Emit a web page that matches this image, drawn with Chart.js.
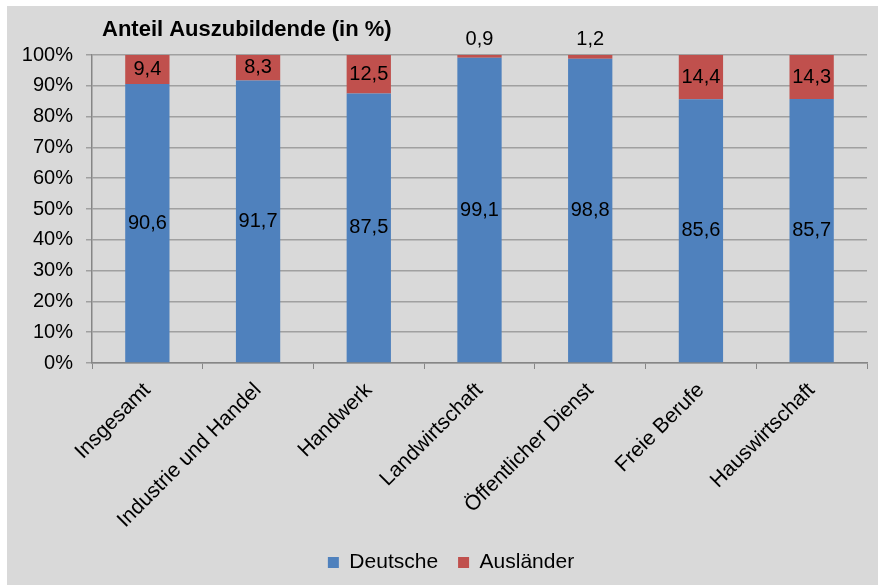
<!DOCTYPE html>
<html>
<head>
<meta charset="utf-8">
<script src="https://cdn.jsdelivr.net/npm/chart.js@4.4.1/dist/chart.umd.min.js"></script>
<style>
    body { margin: 0; background: #ffffff; }
    #box { position: absolute; left: 7px; top: 6px; width: 871px; height: 579px; background: #d9d9d9; }
</style>
</head>
<body>
<div id="box"><canvas id="graph1" width="871" height="579"></canvas></div>
<script>
// Daten
var kategorien = ['Insgesamt', 'Industrie und Handel', 'Handwerk', 'Landwirtschaft', 'Öffentlicher Dienst', 'Freie Berufe', 'Hauswirtschaft'];
var deutsche = [90.6, 91.7, 87.5, 99.1, 98.8, 85.6, 85.7];
var auslaender = [9.4, 8.3, 12.5, 0.9, 1.2, 14.4, 14.3];
var titel = 'Anteil Auszubildende (in %)';

var schrift = 'Liberation Sans, Arial, sans-serif';
var randUnten = 2;

// Titel oben links und Werte in den Balken
var beschriftung = {
    id: 'beschriftung',
    afterLayout: function (chart) {
        // Legende etwas nach rechts, wie im Original
        chart.legend.left += 14;
        chart.legend.right += 14;
    },
    afterDatasetsDraw: function (chart) {
        var ctx = chart.ctx;
        ctx.save();
        ctx.fillStyle = '#000000';
        ctx.font = 'bold 22px ' + schrift;
        ctx.textAlign = 'left';
        ctx.textBaseline = 'alphabetic';
        ctx.fillText(titel, chart.chartArea.left + 10, 30);

        ctx.font = '20px ' + schrift;
        ctx.textAlign = 'center';
        ctx.textBaseline = 'middle';
        chart.data.datasets.forEach(function (ds, i) {
            var meta = chart.getDatasetMeta(i);
            meta.data.forEach(function (bar, j) {
                var v = ds.data[j];
                var txt = v.toFixed(1).replace('.', ',');
                var y = v < 5 ? bar.y - 16 : (bar.y + bar.base) / 2;
                ctx.fillText(txt, bar.x, y);
            });
        });
        ctx.restore();
    }
};

var ctx = document.getElementById('graph1').getContext('2d');
var chart = new Chart(ctx, {
    type: 'bar',
    data: {
        labels: kategorien,
        datasets: [{
            label: 'Deutsche',
            data: deutsche,
            backgroundColor: '#4f81bd',
            categoryPercentage: 0.4,
            barPercentage: 1.0
        }, {
            label: 'Ausländer',
            data: auslaender,
            backgroundColor: '#c0504d',
            categoryPercentage: 0.4,
            barPercentage: 1.0
        }]
    },
    options: {
        responsive: false,
        animation: false,
        events: [],
        layout: { padding: { left: 0, right: 11, top: 49, bottom: randUnten } },
        plugins: {
            tooltip: { enabled: false },
            legend: {
                position: 'bottom',
                labels: {
                    color: '#000000',
                    font: { family: schrift, size: 21 },
                    boxWidth: 11,
                    boxHeight: 11,
                    padding: 20
                }
            }
        },
        scales: {
            x: {
                stacked: true,
                afterFit: function (scale) {
                    scale.height = 579 - 357 - scale.chart.legend.height - randUnten;
                },
                grid: { drawOnChartArea: false, drawTicks: true, tickLength: 6, color: '#868686' },
                border: { display: true, color: '#868686', width: 1.5 },
                ticks: {
                    color: '#000000',
                    font: { family: schrift, size: 21 },
                    minRotation: 45,
                    maxRotation: 45,
                    padding: 9,
                    autoSkip: false
                }
            },
            y: {
                stacked: true,
                min: 0,
                max: 100,
                afterFit: function (scale) {
                    scale.width = 85;
                },
                grid: { color: '#a0a0a0', tickLength: 6, lineWidth: 1.5 },
                border: { display: true, color: '#868686', width: 1.5 },
                ticks: {
                    stepSize: 10,
                    color: '#000000',
                    font: { family: schrift, size: 20 },
                    padding: 13,
                    callback: function (v) { return v + '%'; }
                }
            }
        }
    },
    plugins: [beschriftung]
});
</script>
</body>
</html>
